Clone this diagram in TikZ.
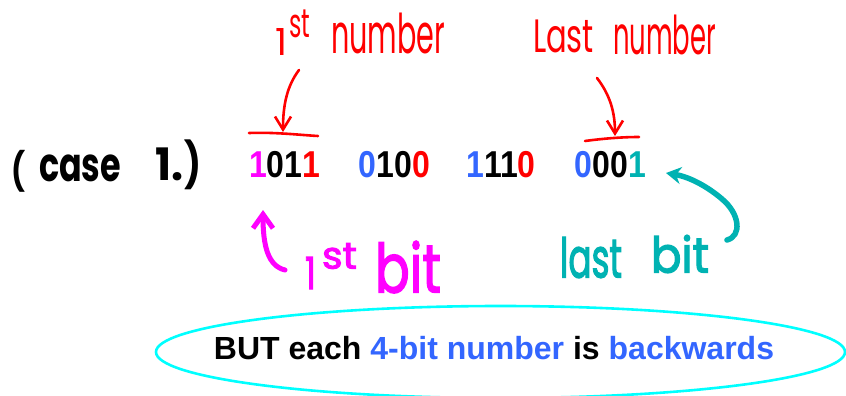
\documentclass[tikz,border=0pt]{standalone}
\usepackage{fontspec}
\usepackage{graphicx}
\setmainfont{Liberation Sans}
\newfontfamily\hand{Poppins}
\newfontfamily\handm[FakeBold=2.5]{Poppins}
\usetikzlibrary{arrows.meta,shapes.geometric}
\definecolor{myred}{RGB}{255,0,0}
\definecolor{mymag}{RGB}{255,0,255}
\definecolor{myblue}{RGB}{51,102,255}
\definecolor{myteal}{RGB}{0,178,178}
\definecolor{mycyan}{RGB}{0,255,255}
\newcommand\rb[3]{\resizebox*{#1}{#2}{#3}}
\newcommand\bt[1]{\scalebox{1}[1.17]{#1}}
\begin{document}
\begin{tikzpicture}[x=1pt,y=-1pt,
  hw/.style={inner sep=0pt, outer sep=0pt, anchor=north west},
  redtxt/.style={hw, text=myred, font=\hand},
  magtxt/.style={hw, text=mymag, font=\handm},
  tealtxt/.style={hw, text=myteal, font=\handm},
  blacktxt/.style={hw, text=black, font=\hand\bfseries},
  bits/.style={inner sep=0pt, anchor=base west, font=\fontsize{32}{32}\selectfont\bfseries},
  redline/.style={draw=myred, line width=2.6pt, line cap=round},
  magline/.style={draw=mymag, line width=5pt, line cap=round},
  tealline/.style={draw=myteal, line width=5.5pt, line cap=round},
]
\fill[white] (0,0) rectangle (846,396);
\useasboundingbox (0,0) rectangle (846,396);

% (case 1.)
\node[blacktxt] (p1) at (12,150) {\rb{14pt}{42pt}{(}};
\node[blacktxt] (case) at (39,155) {\rb{82pt}{27pt}{case}};
\node[blacktxt] (one) at (155,148) {\rb{28pt}{33pt}{1.}};
\node[blacktxt] (p2) at (184,140) {\rb{17pt}{50pt}{)}};

% bits
\node[bits] (g1) at (249,177) {\bt{\textcolor{mymag}{1}01\textcolor{myred}{1}}};
\node[bits] (g2) at (358.5,177) {\bt{\textcolor{myblue}{0}10\textcolor{myred}{0}}};
\node[bits] (g3) at (466,177) {\bt{\textcolor{myblue}{1}11\textcolor{myred}{0}}};
\node[bits] (g4) at (574.5,177) {\bt{\textcolor{myblue}{0}00\textcolor{myteal}{1}}};

% red labels
\node[redtxt] (r1) at (275,28) {\rb{12pt}{27pt}{1}};
\node[redtxt] (r2) at (289,10) {\rb{21pt}{28pt}{st}};
\node[redtxt] (r3) at (331,13) {\rb{114pt}{41pt}{number}};
\node[redtxt] (l1) at (533,20) {\rb{61pt}{33pt}{Last}};
\node[redtxt] (l2) at (613,15) {\rb{103pt}{40pt}{number}};

% red underlines and arrows
\coordinate (u1a) at (249,133); \coordinate (u1b) at (318,136);
\coordinate (u2a) at (585,141); \coordinate (u2b) at (639,137);
\draw[redline] (u1a) .. controls (275,132) and (300,135) .. (u1b);
\draw[redline] (u2a) .. controls (600,139) and (620,137) .. (u2b);
\coordinate (a1s) at (299,70); \coordinate (a1e) at (283,132);
\coordinate (a2s) at (597,78); \coordinate (a2e) at (615,136);
\draw[redline, -{Straight Barb[length=13pt,width=16pt]}] (a1s) .. controls (287,86) and (283,105) .. (a1e);
\draw[redline, -{Straight Barb[length=13pt,width=16pt]}] (a2s) .. controls (610,95) and (615,112) .. (a2e);

% magenta
\node[magtxt] (m1) at (305,257) {\rb{11pt}{32pt}{1}};
\node[magtxt] (m2) at (322,243) {\rb{35pt}{26pt}{st}};
\node[magtxt] (m3) at (375,241) {\rb{66pt}{52pt}{bit}};
\coordinate (ms) at (285,270); \coordinate (me) at (263,210);
\draw[magline, -{Straight Barb[length=14pt,width=20pt]}] (ms) .. controls (268,266) and (263,246) .. (me);

% teal
\node[tealtxt] (t1) at (560,237) {\rb{62pt}{41pt}{last}};
\node[tealtxt] (t2) at (651,235) {\rb{58pt}{38pt}{bit}};
\coordinate (ts) at (727,240); \coordinate (te) at (666,173);
\draw[tealline, -{Stealth[length=15pt,width=17pt]}] (ts) .. controls (742,236) and (740,214) .. (722,199) .. controls (708,187) and (690,177) .. (te);

% oval
\node[ellipse, draw=mycyan, line width=2.6pt, minimum width=689pt, minimum height=92pt, inner sep=0pt] (oval) at (500.5,352) {};
\node[inner sep=0pt, anchor=base, font=\fontsize{32}{32}\selectfont\bfseries] (msg) at (494,359) {BUT each \textcolor{myblue}{4-bit number} is \textcolor{myblue}{backwards}};
\end{tikzpicture}
\end{document}
